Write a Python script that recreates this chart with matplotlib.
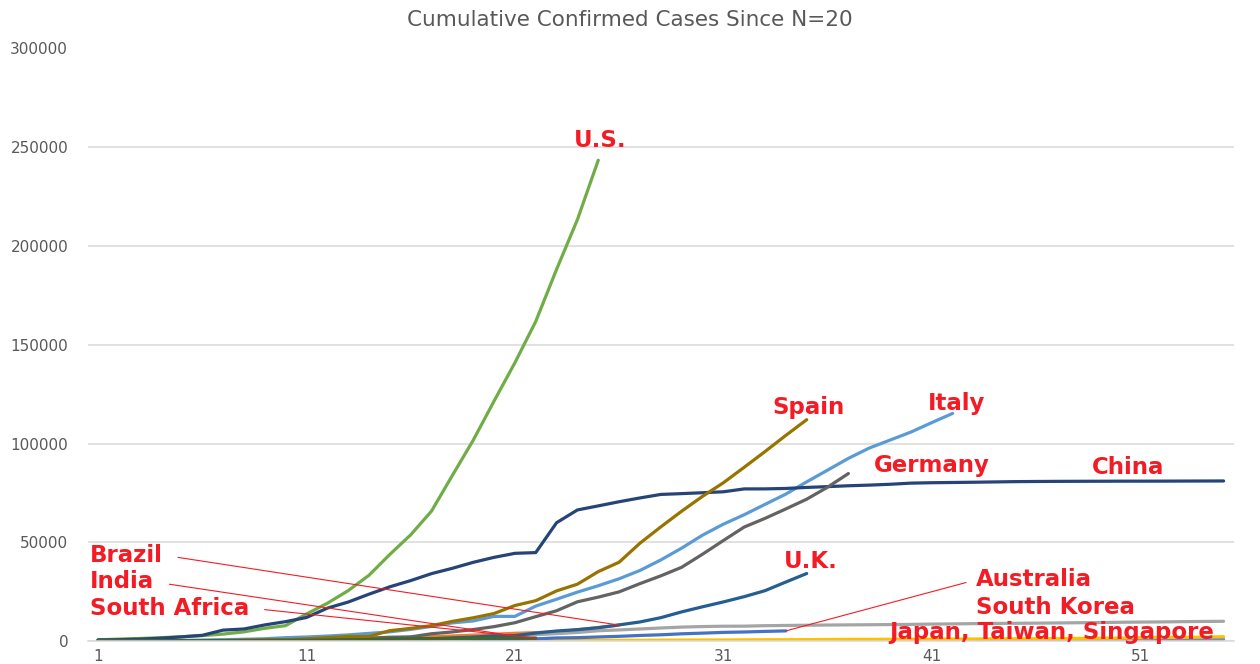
import matplotlib
matplotlib.use("Agg")
import matplotlib.pyplot as plt

# ---------------- data (days since N=20) ----------------
us = [583, 959, 1281, 1663, 2179, 2726, 3499, 4632, 6421, 7783, 13677, 19100, 25489,
      33276, 43847, 53740, 65778, 83836, 101657, 121478, 140886, 161807, 188172,
      213372, 243453]
china = [548, 643, 920, 1406, 2075, 2877, 5509, 6087, 8141, 9802, 11891, 16630, 19716,
         23707, 27440, 30587, 34110, 36814, 39829, 42354, 44386, 44759, 59895, 66358,
         68413, 70513, 72434, 74211, 74619, 75077, 75550, 77001, 77022, 77241, 77754,
         78166, 78600, 78928, 79356, 79932, 80136, 80261, 80386, 80537, 80690, 80770,
         80823, 80860, 80887, 80921, 80932, 80945, 80977, 81003, 81033]
italy = [20, 62, 155, 229, 322, 453, 655, 888, 1128, 1694, 2036, 2502, 3089, 3858, 4636,
         5883, 7375, 9172, 10149, 12462, 12462, 17660, 21157, 24747, 27980, 31506, 35713,
         41035, 47021, 53578, 59138, 63927, 69176, 74386, 80589, 86498, 92472, 97689,
         101739, 105792, 110574, 115242]
spain = [32, 45, 84, 120, 165, 222, 259, 400, 500, 673, 1073, 1695, 2277, 2277, 5232,
         6391, 7798, 9942, 11748, 13910, 17963, 20410, 25374, 28768, 35136, 39885, 49515,
         57786, 65719, 73235, 80110, 87956, 95923, 104118, 112065]
germany = [21, 26, 57, 57, 118, 149, 196, 262, 482, 670, 799, 1040, 1176, 1457, 1908,
           2078, 3675, 4585, 5795, 7272, 9257, 12327, 15320, 19848, 22213, 24873, 29056,
           32986, 37323, 43938, 50871, 57695, 62095, 66885, 71808, 77872, 84794]
uk = [20, 23, 36, 40, 51, 86, 116, 164, 207, 274, 322, 384, 459, 459, 802, 1144, 1145,
      1551, 1960, 2642, 2716, 4014, 5067, 5745, 6726, 8164, 9640, 11812, 14745, 17312,
      19780, 22453, 25481, 29865, 34173]
brazil = [20, 25, 31, 38, 52, 151, 151, 162, 200, 321, 372, 621, 793, 1021, 1546, 1924,
          2247, 2554, 2985, 3417, 3904, 4256, 4579, 5717, 6836, 8044]
india = [82, 102, 113, 119, 142, 156, 194, 244, 330, 396, 499, 536, 657, 727, 887, 987,
         1024, 1251, 1397, 1998, 2543]
south_africa = [17, 24, 38, 51, 62, 62, 116, 150, 202, 240, 274, 402, 554, 709, 927,
                1170, 1187, 1280, 1326, 1353, 1380, 1462]
australia = [25, 27, 30, 39, 52, 55, 60, 63, 76, 91, 107, 128, 128, 200, 250, 297, 377,
             452, 568, 681, 791, 1071, 1549, 1682, 2044, 2364, 2810, 3143, 3640, 3984,
             4361, 4559, 4862, 5116]
south_korea = [24, 25, 27, 28, 28, 28, 28, 28, 29, 30, 31, 31, 104, 204, 433, 602, 833,
               977, 1261, 1766, 2337, 3150, 3736, 4335, 5186, 5621, 6088, 6593, 7041,
               7314, 7478, 7513, 7755, 7869, 7979, 8086, 8162, 8236, 8320, 8413, 8565,
               8652, 8799, 8897, 8961, 9037, 9137, 9241, 9332, 9478, 9583, 9661, 9786,
               9887, 9976]
japan = [25, 26, 26, 26, 28, 28, 29, 43, 59, 66, 74, 84, 94, 105, 122, 147, 159, 170,
         189, 214, 228, 241, 256, 274, 293, 331, 360, 420, 461, 502, 511, 581, 639, 639,
         701, 773, 839, 839, 878, 889, 924, 963, 1007, 1086, 1086, 1128, 1193, 1307,
         1387, 1468, 1693, 1866, 1866, 1953, 2178]
singapore = [24, 28, 28, 30, 33, 40, 45, 47, 50, 58, 67, 72, 75, 77, 81, 84, 84, 85, 85,
             89, 89, 91, 93, 93, 93, 102, 106, 108, 110, 110, 117, 130, 138, 150, 150,
             160, 178, 178, 200, 212, 226, 243, 266, 313, 345, 385, 432, 455, 509, 558,
             631, 683, 732, 802, 844]
taiwan = [24, 26, 26, 28, 30, 31, 32, 32, 34, 39, 39, 40, 41, 42, 42, 44, 45, 45, 45, 47,
          48, 49, 50, 53, 59, 67, 77, 100, 108, 135, 153, 169, 195, 215, 235, 252, 267,
          283, 298, 306, 322, 329, 339]

y_ticks = [0, 50000, 100000, 150000, 200000, 250000, 300000]
x_ticks = [1, 11, 21, 31, 41, 51]

# ---------------- figure ----------------
W, H = 1260, 664
fig = plt.figure(figsize=(W / 100, H / 100), dpi=100)
ax = fig.add_axes([87.6 / W, (H - 641) / H, (1234 - 87.6) / W, (641 - 48.5) / H])

LW = 2.3
series = [
    (taiwan, "#F1975A"),
    (singapore, "#698ED0"),
    (japan, "#FFC000"),
    (australia, "#4472C4"),
    (brazil, "#ED7D31"),
    (south_korea, "#A5A5A5"),
    (italy, "#5B9BD5"),
    (us, "#70AD47"),
    (china, "#264478"),
    (india, "#9E480E"),
    (germany, "#636363"),
    (spain, "#997300"),
    (uk, "#255E91"),
    (south_africa, "#43682B"),
]
for vals, col in series:
    ax.plot(range(1, len(vals) + 1), vals, color=col, lw=LW,
            solid_joinstyle="round", solid_capstyle="round")

ax.set_xlim(0.5, 55.5)
ax.set_ylim(0, 300000)
ax.set_yticks(y_ticks)
ax.set_yticklabels([str(v) for v in y_ticks])
ax.set_xticks(x_ticks)
ax.grid(axis="y", color="#D9D9D9", lw=1.1)
ax.set_axisbelow(True)
for s in ["top", "right", "left"]:
    ax.spines[s].set_visible(False)
ax.spines["bottom"].set_color("#D9D9D9")
ax.spines["bottom"].set_linewidth(1.1)
ax.tick_params(axis="both", length=0, labelsize=11, labelcolor="#595959")
ax.tick_params(axis="y", pad=14)
ax.tick_params(axis="x", pad=6)

fig.text(0.5, 1 - 20 / H, "Cumulative Confirmed Cases Since N=20", ha="center",
         va="center", fontsize=15.5, color="#595959")

RED = "#F41C24"
lab = dict(color=RED, fontsize=16.5, fontweight="bold", family="DejaVu Sans")

# labels placed next to line ends
ax.text(25.1, 253500, "U.S.", ha="center", va="center", **lab)
ax.text(35.1, 118400, "Spain", ha="center", va="center", **lab)
ax.text(42.2, 120400, "Italy", ha="center", va="center", **lab)
ax.text(41.0, 89000, "Germany", ha="center", va="center", **lab)
ax.text(50.4, 88000, "China", ha="center", va="center", **lab)
ax.text(35.2, 40000, "U.K.", ha="center", va="center", **lab)
ax.text(38.95, 4550, "Japan, Taiwan, Singapore", ha="left", va="center", **lab)
ax.text(43.1, 17200, "South Korea", ha="left", va="center", **lab)

# labels with leader lines to the end of each series
leader = dict(arrowstyle="-", color=RED, lw=0.8, shrinkB=0)
for name, vals, pos in [("Brazil", brazil, (0.62, 43500)),
                        ("India", india, (0.62, 29900)),
                        ("South Africa", south_africa, (0.62, 16700))]:
    ax.annotate(name, xy=(len(vals), vals[-1]), xytext=pos, ha="left", va="center",
                arrowprops=dict(relpos=(1, 0.5), shrinkA=9, **leader), **lab)
ax.annotate("Australia", xy=(len(australia), australia[-1]), xytext=(43.1, 30900),
            ha="left", va="center",
            arrowprops=dict(relpos=(0, 0.5), shrinkA=5, **leader), **lab)

fig.savefig("out.png", dpi=100)
